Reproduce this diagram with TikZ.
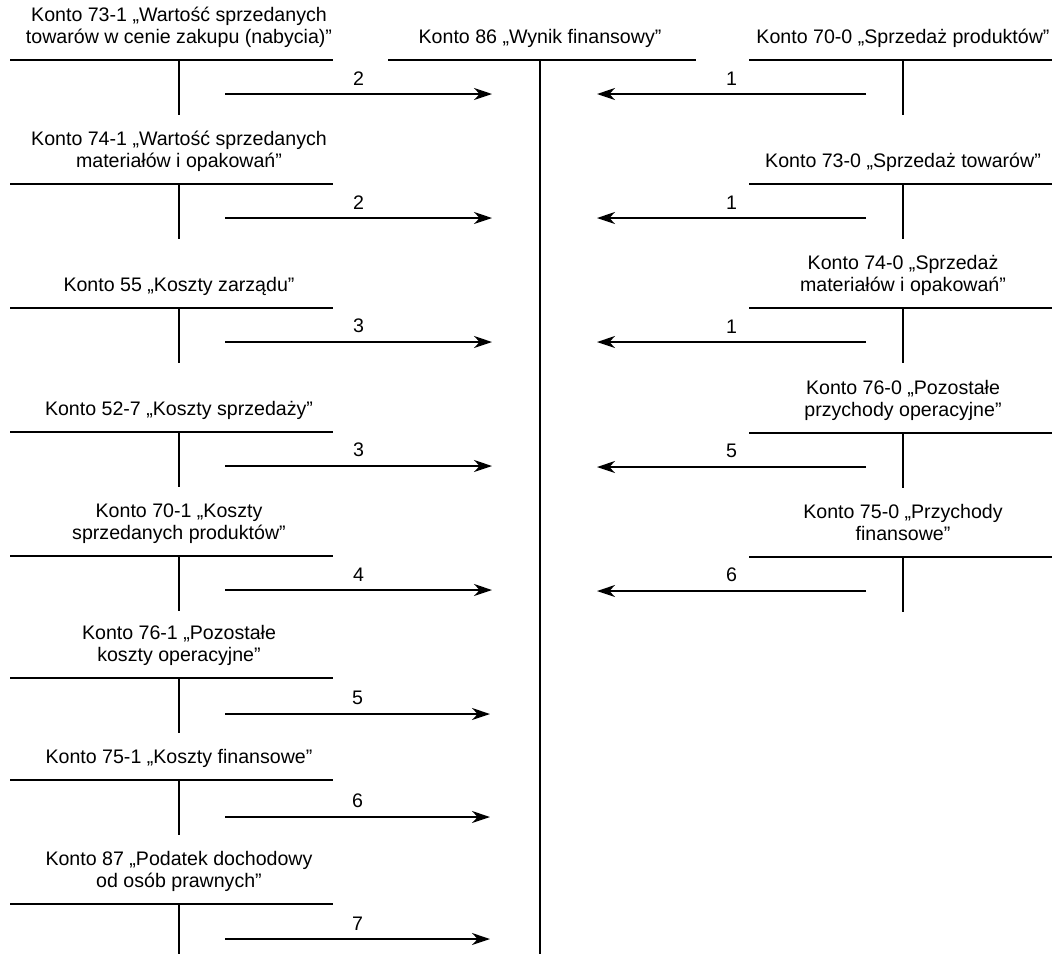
\documentclass[tikz,border=0pt]{standalone}
\usepackage{fontspec}
\setmainfont{Liberation Sans}
\usetikzlibrary{arrows.meta,positioning}

\tikzset{
  konto/.style={align=center, inner sep=0pt, execute at end node=\strut},
  tline/.style={line width=0.7pt},
  przen/.style={line width=0.9pt, -{Stealth[length=9pt,width=6pt,inset=2.8pt]}},
  nr/.style={midway, above=4pt, inner sep=0pt}
}

\begin{document}
\begin{tikzpicture}[x=0.5pt, y=-0.5pt, font=\fontsize{9.8}{11}\selectfont]
\useasboundingbox (0,0) rectangle (1052,954);

% Konto 86
\coordinate (t86) at (540,60);
\node[konto, above=5pt of t86] (k86) {Konto 86 „Wynik finansowy”};
\draw[tline] (388,60) -- (696,60) (t86) -- (540,954);

% Left side
\coordinate (t731) at (179,60);
\node[konto, above=5pt of t731] (k731) {Konto 73-1 „Wartość sprzedanych\\towarów w cenie zakupu (nabycia)”};
\draw[tline] (10,60) -- (333,60) (t731) -- ++(0,55);
\coordinate (a731) at (225,94); \coordinate (b731) at (492,94);
\draw[przen] (a731) -- node[nr] {2} (b731);

\coordinate (t741) at (179,184);
\node[konto, above=5pt of t741] (k741) {Konto 74-1 „Wartość sprzedanych\\materiałów i opakowań”};
\draw[tline] (10,184) -- (333,184) (t741) -- ++(0,55);
\coordinate (a741) at (225,218); \coordinate (b741) at (492,218);
\draw[przen] (a741) -- node[nr] {2} (b741);

\coordinate (t55) at (179,308);
\node[konto, above=5pt of t55] (k55) {Konto 55 „Koszty zarządu”};
\draw[tline] (10,308) -- (333,308) (t55) -- ++(0,55);
\coordinate (a55) at (225,342); \coordinate (b55) at (492,342);
\draw[przen] (a55) -- node[nr] {3} (b55);

\coordinate (t527) at (179,432);
\node[konto, above=5pt of t527] (k527) {Konto 52-7 „Koszty sprzedaży”};
\draw[tline] (10,432) -- (333,432) (t527) -- ++(0,55);
\coordinate (a527) at (225,466); \coordinate (b527) at (492,466);
\draw[przen] (a527) -- node[nr] {3} (b527);

\coordinate (t701) at (179,556);
\node[konto, above=5pt of t701] (k701) {Konto 70-1 „Koszty\\sprzedanych produktów”};
\draw[tline] (10,556) -- (333,556) (t701) -- ++(0,55);
\coordinate (a701) at (225,590); \coordinate (b701) at (492,590);
\draw[przen] (a701) -- node[nr] {4} (b701);

\coordinate (t761) at (179,678);
\node[konto, above=5pt of t761] (k761) {Konto 76-1 „Pozostałe\\koszty operacyjne”};
\draw[tline] (10,678) -- (333,678) (t761) -- ++(0,55);
\coordinate (a761) at (225,714); \coordinate (b761) at (490,714);
\draw[przen] (a761) -- node[nr] {5} (b761);

\coordinate (t751) at (179,780);
\node[konto, above=5pt of t751] (k751) {Konto 75-1 „Koszty finansowe”};
\draw[tline] (10,780) -- (333,780) (t751) -- ++(0,55);
\coordinate (a751) at (225,817); \coordinate (b751) at (490,817);
\draw[przen] (a751) -- node[nr] {6} (b751);

\coordinate (t87) at (179,904);
\node[konto, above=5pt of t87] (k87) {Konto 87 „Podatek dochodowy\\od osób prawnych”};
\draw[tline] (10,904) -- (333,904) (t87) -- (179,954);
\coordinate (a87) at (225,939); \coordinate (b87) at (490,939);
\draw[przen] (a87) -- node[nr] {7} (b87);

% Right side
\coordinate (t700) at (903,60);
\node[konto, above=5pt of t700] (k700) {Konto 70-0 „Sprzedaż produktów”};
\draw[tline] (749,60) -- (1052,60) (t700) -- ++(0,55);
\coordinate (a700) at (866,94); \coordinate (b700) at (597,94);
\draw[przen] (a700) -- node[nr] {1} (b700);

\coordinate (t730) at (903,184);
\node[konto, above=5pt of t730] (k730) {Konto 73-0 „Sprzedaż towarów”};
\draw[tline] (749,184) -- (1052,184) (t730) -- ++(0,55);
\coordinate (a730) at (866,218); \coordinate (b730) at (597,218);
\draw[przen] (a730) -- node[nr] {1} (b730);

\coordinate (t740) at (903,308);
\node[konto, above=5pt of t740] (k740) {Konto 74-0 „Sprzedaż\\materiałów i opakowań”};
\draw[tline] (749,308) -- (1052,308) (t740) -- ++(0,55);
\coordinate (a740) at (866,342); \coordinate (b740) at (597,342);
\draw[przen] (a740) -- node[nr] {1} (b740);

\coordinate (t760) at (903,433);
\node[konto, above=5pt of t760] (k760) {Konto 76-0 „Pozostałe\\przychody operacyjne”};
\draw[tline] (749,433) -- (1052,433) (t760) -- ++(0,55);
\coordinate (a760) at (866,467); \coordinate (b760) at (597,467);
\draw[przen] (a760) -- node[nr] {5} (b760);

\coordinate (t750) at (903,557);
\node[konto, above=5pt of t750] (k750) {Konto 75-0 „Przychody\\finansowe”};
\draw[tline] (749,557) -- (1052,557) (t750) -- ++(0,55);
\coordinate (a750) at (866,591); \coordinate (b750) at (597,591);
\draw[przen] (a750) -- node[nr] {6} (b750);
\end{tikzpicture}
\end{document}
